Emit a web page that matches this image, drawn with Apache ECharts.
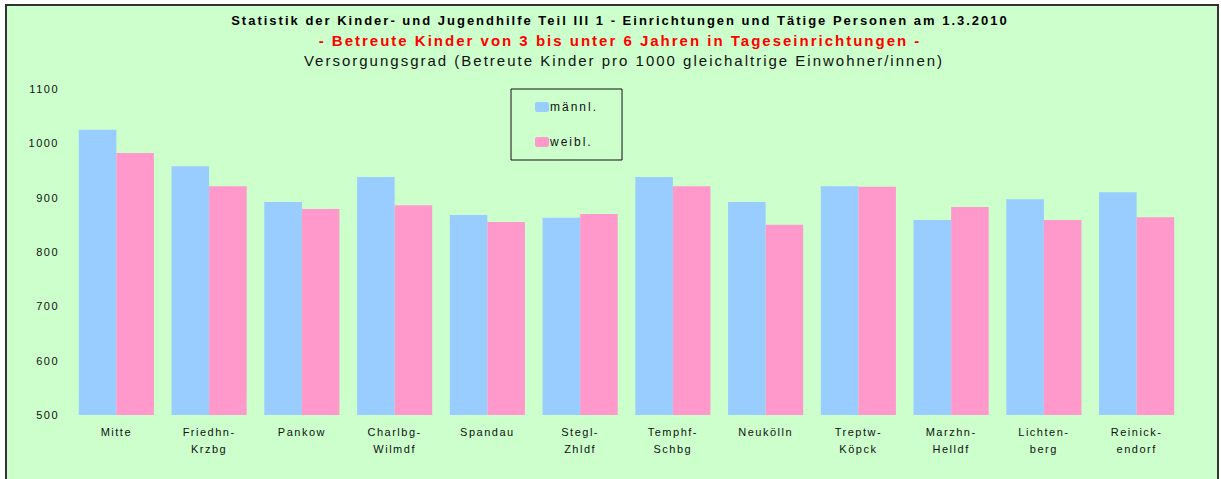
<!DOCTYPE html>
<html>
<head>
<meta charset="utf-8">
<script src="https://cdn.jsdelivr.net/npm/echarts@6/dist/echarts.min.js"></script>
<style>
  html, body { margin: 0; padding: 0; background: #ffffff; }
  #main { width: 1221px; height: 479px; }
</style>
</head>
<body>
<div id="main"></div>
<script>
// Bezirke
var bezirke = ['Mitte', 'Friedhn-\nKrzbg', 'Pankow', 'Charlbg-\nWilmdf', 'Spandau', 'Stegl-\nZhldf',
  'Temphf-\nSchbg', 'Neukölln', 'Treptw-\nKöpck', 'Marzhn-\nHelldf', 'Lichten-\nberg', 'Reinick-\nendorf'];
// Versorgungsgrad je 1000
var maennl = [1025, 958, 892, 938, 868, 863, 938, 892, 921, 859, 897, 910];
var weibl = [982, 921, 879, 886, 855, 870, 921, 850, 920, 883, 859, 864];
var yTicks = [500, 600, 700, 800, 900, 1000, 1100];

var font = "'Liberation Sans', Arial, sans-serif";
// svg renderer so the wide letter spacing of the original can be set on the text nodes
var chart = echarts.init(document.getElementById('main'), null, { renderer: 'svg' });

var option = {
  animation: false,
  backgroundColor: '#ffffff',
  graphic: [{
    type: 'rect',
    z: -10,
    shape: { x: 6, y: 5, width: 1212, height: 480 },
    style: { fill: '#ccffcc', stroke: '#333333', lineWidth: 2 }
  }],
  title: [
    {
      text: 'Statistik der Kinder- und Jugendhilfe Teil III 1 - Einrichtungen und Tätige Personen am 1.3.2010',
      left: 620, textAlign: 'center', top: 14, padding: 0,
      textStyle: { fontFamily: font, fontSize: 13, fontWeight: 'bold', color: '#000000' }
    },
    {
      text: '- Betreute Kinder von 3 bis unter 6 Jahren in Tageseinrichtungen -',
      left: 620, textAlign: 'center', top: 33, padding: 0,
      textStyle: { fontFamily: font, fontSize: 15, fontWeight: 'bold', color: '#ff0000' }
    },
    {
      text: 'Versorgungsgrad (Betreute Kinder pro 1000 gleichaltrige Einwohner/innen)',
      left: 624, textAlign: 'center', top: 53, padding: 0,
      textStyle: { fontFamily: font, fontSize: 15, fontWeight: 'normal', color: '#111111' }
    }
  ],
  legend: {
    orient: 'vertical',
    left: 511, top: 89,
    padding: [12, 36, 12, 24],
    itemGap: 23,
    itemWidth: 14, itemHeight: 10,
    itemStyle: { borderWidth: 0 },
    borderColor: '#111111', borderWidth: 1,
    textStyle: { fontFamily: font, fontSize: 12, color: '#111111', padding: [0, 0, 0, -4], lineHeight: 12 },
    data: ['männl.', 'weibl.']
  },
  grid: { left: 70, right: 38, top: 89, bottom: 64 },
  xAxis: {
    type: 'category',
    data: bezirke,
    axisLine: { show: false },
    axisTick: { show: false },
    axisLabel: { fontFamily: font, fontSize: 11, color: '#111111', margin: 8, lineHeight: 17, interval: 0 }
  },
  yAxis: {
    type: 'value',
    min: 500, max: 1100, interval: 100,
    axisLine: { show: false },
    axisTick: { show: false },
    splitLine: { show: false },
    axisLabel: {
      fontFamily: font, fontSize: 11, color: '#111111', margin: 11,
      formatter: function (v) { return yTicks.indexOf(v) >= 0 ? String(v) : ''; }
    }
  },
  series: [
    {
      name: 'männl.', type: 'bar', data: maennl,
      barGap: '0%', barCategoryGap: '19%',
      itemStyle: { color: '#99ccff' }
    },
    {
      name: 'weibl.', type: 'bar', data: weibl,
      barGap: '0%', barCategoryGap: '19%',
      itemStyle: { color: '#ff99cc' }
    }
  ]
};

// Buchstabenabstand wie im Original
function spreadText() {
  var nodes = document.querySelectorAll('#main svg text');
  nodes.forEach(function (el) {
    var size = parseFloat(window.getComputedStyle(el).fontSize);
    el.style.letterSpacing = size >= 12 ? '2px' : '1.5px';
  });
}

chart.on('finished', spreadText);
chart.setOption(option);
spreadText();
</script>
</body>
</html>
